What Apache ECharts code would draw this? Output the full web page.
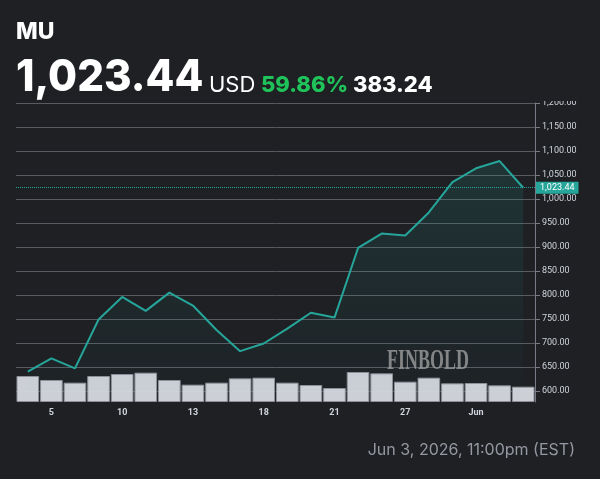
<!DOCTYPE html>
<html lang="en">
<head>
    <meta charset="UTF-8">
    <title>MU</title>
    <script src="https://cdn.jsdelivr.net/npm/echarts@6.0.0/dist/echarts.min.js"></script>
    <style>
        html, body { margin: 0; padding: 0; background: #1e2024; }
        #main { width: 600px; height: 479px; }
    </style>
</head>
<body>
<div id="main"></div>
<script type="text/javascript">
    // data
    var ticker = 'MU';
    var stamp = 'Jun 3, 2026, 11:00pm (EST)';
    var days = ['4', '5', '7', '8', '10', '11', '12', '13', '14', '17', '18',
                '19', '20', '21', '24', '26', '27', '28', '29', 'Jun', '2', '3'];
    var price = [640.20, 668, 647, 749, 796, 767, 805, 778, 727, 683, 699,
                 730, 763, 753, 898, 928, 924, 972, 1035, 1064, 1079, 1023.44];
    var volume = [39, 33, 29, 39, 42, 44, 33, 26, 29, 35.5, 36.5,
                  29, 25.5, 21, 45, 43, 30.5, 36.5, 28, 28.5, 25, 23];

    var bg = '#1e2024';
    var teal = '#26a69a';
    var last = price[price.length - 1];
    var change = last - price[0];
    var pct = change / price[0] * 100;

    function money(v) {
        return v.toLocaleString('en-US', {minimumFractionDigits: 2, maximumFractionDigits: 2});
    }

    var myChart = echarts.init(document.getElementById('main'));
    var option = {
        backgroundColor: bg,
        animation: false,
        grid: [
            {left: 16, right: 65, top: 103, bottom: 88},
            {left: 16, right: 65, bottom: 77, height: 80}
        ],
        xAxis: [
            {gridIndex: 0, type: 'category', data: days, show: false},
            {
                gridIndex: 1, type: 'category', data: days,
                axisLine: {show: false}, axisTick: {show: false},
                axisLabel: {
                    color: '#d1d4dc', fontSize: 9, fontWeight: 'bold', fontFamily: 'Roboto', margin: 6,
                    interval: function (i) { return i % 3 === 1; }
                }
            }
        ],
        yAxis: [
            {
                gridIndex: 0, type: 'value', position: 'right',
                min: 600, max: 1200, interval: 50,
                axisLine: {show: true, lineStyle: {color: '#787b86'}},
                axisTick: {show: true, length: 5, lineStyle: {color: '#787b86'}},
                axisLabel: {color: '#d1d4dc', fontSize: 9, fontFamily: 'Roboto', margin: 7, formatter: money},
                splitLine: {lineStyle: {color: '#585b62'}}
            },
            {
                gridIndex: 1, type: 'value', position: 'right', min: 0, max: 120,
                axisLine: {show: true, lineStyle: {color: '#787b86'}},
                axisTick: {show: false}, axisLabel: {show: false}, splitLine: {show: false}
            }
        ],
        series: [
            {
                type: 'line', xAxisIndex: 0, yAxisIndex: 0, data: price,
                symbol: 'none', z: 4,
                lineStyle: {color: teal, width: 2},
                areaStyle: {
                    color: new echarts.graphic.LinearGradient(0, 0, 0, 1, [
                        {offset: 0, color: 'rgba(38,166,154,0.22)'},
                        {offset: 1, color: 'rgba(38,166,154,0.02)'}
                    ])
                },
                markLine: {
                    silent: true, symbol: ['none', 'none'],
                    lineStyle: {color: teal, type: 'dotted', width: 1},
                    label: {
                        position: 'end', distance: 1, formatter: function () { return money(last); },
                        backgroundColor: teal, color: '#ffffff', fontSize: 9, fontFamily: 'Roboto',
                        padding: [2, 4, 1, 4]
                    },
                    data: [{yAxis: last}]
                }
            },
            {
                type: 'bar', xAxisIndex: 1, yAxisIndex: 1, data: volume,
                barCategoryGap: '4%', z: 3,
                itemStyle: {color: 'rgba(212,214,222,0.96)', borderColor: '#8d9099', borderWidth: 1}
            }
        ],
        graphic: [
            // hide the top half of the 1,200.00 label like the picture does
            {type: 'rect', left: 537, top: 86, shape: {width: 63, height: 15}, style: {fill: bg}, z: 100},
            {type: 'text', x: 16, y: 32, style: {text: ticker, fill: '#ffffff', font: '800 23px Inter', verticalAlign: 'middle'}},
            {type: 'text', x: 16, y: 78, scaleX: 0.955, style: {text: money(last), fill: '#ffffff', font: '800 44px Inter', verticalAlign: 'middle'}},
            {type: 'text', x: 209, y: 85, style: {text: 'USD', fill: '#ffffff', font: '400 22px Inter', verticalAlign: 'middle'}},
            {type: 'text', x: 261, y: 85, style: {text: pct.toFixed(2) + '%', fill: '#1fc35a', font: '800 22px Inter', verticalAlign: 'middle'}},
            {type: 'text', x: 353, y: 85, style: {text: change.toFixed(2), fill: '#ffffff', font: '800 22px Inter', verticalAlign: 'middle'}},
            {type: 'text', x: 387, y: 361, scaleX: 0.6, z: 10,
             style: {text: 'FINBOLD', fill: 'rgba(165,165,165,0.75)', font: 'bold 30px "Liberation Serif"', verticalAlign: 'middle'}},
            {type: 'text', x: 575, y: 450, style: {text: stamp, fill: '#9598a1', font: '16px Inter', align: 'right', verticalAlign: 'middle'}}
        ]
    };
    myChart.setOption(option);
</script>
</body>
</html>
